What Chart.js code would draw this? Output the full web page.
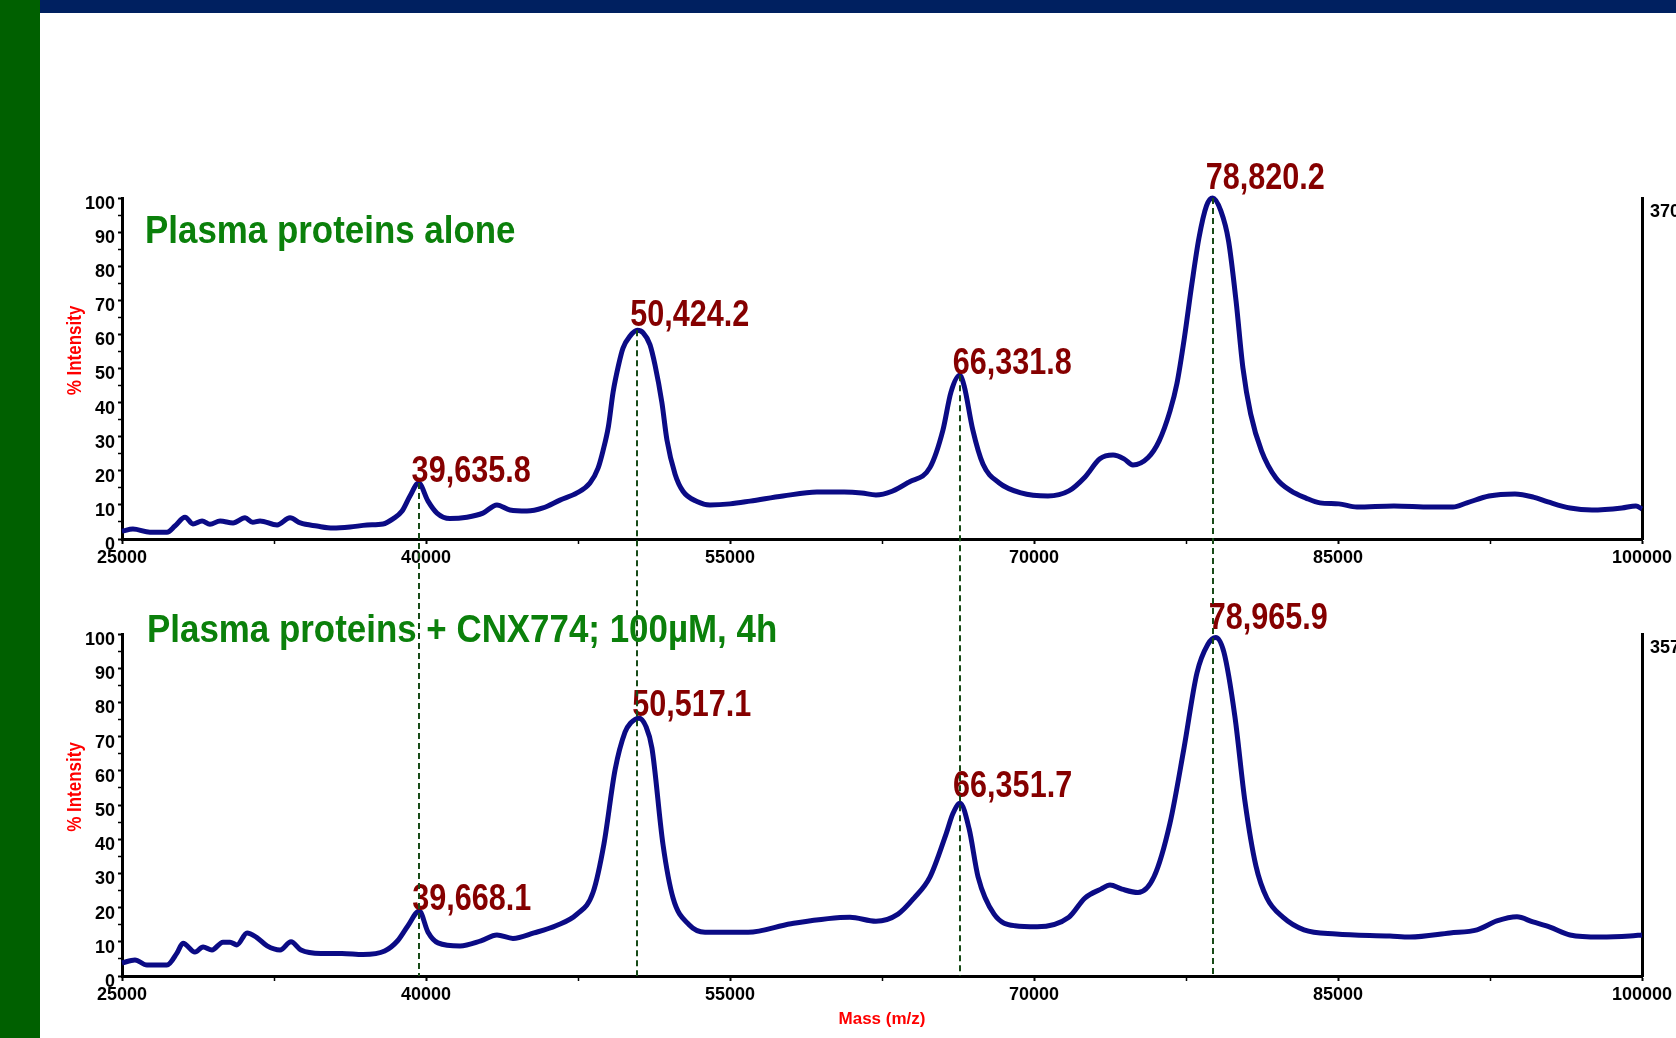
<!DOCTYPE html>
<html>
<head>
<meta charset="utf-8">
<script src="https://cdn.jsdelivr.net/npm/chart.js@4.4.1/dist/chart.umd.min.js"></script>
<style>
  html, body { margin: 0; padding: 0; background: #fff; overflow: hidden; }
  #page { position: relative; width: 1676px; height: 1038px; background: #fff; }
  #sideBand { position: absolute; left: 0; top: 0; width: 40px; height: 1038px; background: #006000; }
  #topBand { position: absolute; left: 40px; top: 0; right: 0; height: 13px; background: #002060; }
  canvas { position: absolute; left: 0; top: 0; }
</style>
</head>
<body>
<div id="page">
  <div id="sideBand"></div>
  <div id="topBand"></div>
  <canvas id="upper" width="1676" height="1038"></canvas>
  <canvas id="lower" width="1676" height="1038"></canvas>
</div>
<script>
// ---- spectra: mass (m/z) and % intensity ----
const massTicks = [25000, 40000, 55000, 70000, 85000, 100000];

const aloneMass = [25000,25540,26380,27220,27610,28110,28500,28950,29340,29840,30480,31070,31450,31810,32650,33290,33800,34620,35410,36250,37090,37880,38370,38820,39210,39635.8,40100,40540,41180,42020,42810,43500,44140,44980,45770,46610,47450,48090,48490,48730,49000,49230,49500,49720,50065,50424.2,50710,51050,51300,51640,51890,52290,52680,53370,54010,55000,55990,57610,59290,60630,61500,62200,63000,63830,64870,65510,65900,66331.8,66550,66980,67480,68270,69360,70690,71720,72520,73250,73900,74440,74880,75620,76170,76710,77050,77420,77790,78140,78510,78820.2,79220,79600,79970,80310,80690,81230,81940,82680,83420,84110,85040,85930,87760,89590,90670,91360,92450,93730,94640,95360,96450,97530,99010,99700,100000];
const aloneIntensity = [2.3,2.9,2.0,2.0,3.8,6.4,4.4,5.3,4.3,5.3,4.7,6.2,4.9,5.3,4.1,6.2,4.7,3.8,3.2,3.5,4.1,4.4,5.9,8.2,12.6,16.4,11.1,7.6,6.0,6.4,7.6,10.0,8.5,8.2,9.1,11.4,13.5,16.4,20.8,25.8,33,43,51,56,59.5,61.2,60.5,57,51,40,29,19,14,11,10,10.3,11.1,12.6,13.8,13.8,13.5,12.9,14,16.7,21,32,43,48,45,32,22,16.5,13.5,12.6,14.1,18.2,23.5,24.6,23.5,21.7,23.8,28.7,37.5,45.5,59,74.8,88.3,97.7,100,96.2,87.4,69.8,50.1,36.7,25.8,17.9,14.1,12.0,10.6,10.3,9.4,9.7,9.4,9.4,10.6,12.6,13.2,12.3,10.9,9.1,8.5,9.1,9.7,8.8];
const alonePeaks = [39635.8, 50424.2, 66331.8, 78820.2];

const treatedMass = [25000,25640,26230,27220,27710,28010,28600,29000,29440,29980,30330,30670,31170,31640,32160,32800,33340,33830,34820,35850,36890,37960,38600,39110,39668.1,40100,40590,41680,42710,43500,44290,45330,46410,47450,48240,48780,49330,49820,50100,50517.1,50850,51150,51690,52190,52980,53770,55890,58010,60920,62200,63290,64080,64870,65660,66000,66351.7,66800,67240,68030,69060,70150,71720,72510,73300,73750,74340,75130,75920,76710,77400,78040,78580,78965.9,79370,79910,80410,80950,81490,82280,83320,84900,87560,88550,90530,91860,92840,93830,94620,95460,96450,97930,99410,100000];
const treatedIntensity = [3.8,4.7,3.2,3.2,6.7,9.6,7.0,8.5,7.6,9.9,9.9,9.1,12.6,11.3,8.8,7.6,10.0,7.6,6.6,6.6,6.3,7.3,10.3,14.7,19.0,12.8,9.7,8.8,10.3,12.0,11.0,12.6,14.7,18.1,24.4,38.6,60.3,71.3,74,75.4,73,66.6,38.6,22.8,15.0,12.8,12.8,15.3,17.2,16.0,18.1,22.8,29.0,41.5,47.5,50.5,43,29,18.1,14.7,14.4,17.2,22.8,25.4,26.6,25.4,24.4,29.0,44.7,66.6,88.6,97,99,94.7,76,51,32.2,22.8,17.2,13.5,12.3,11.7,11.4,12.6,13.5,16.1,17.3,15.8,14.3,12.0,11.4,11.7,12.0];
const treatedPeaks = [39668.1, 50517.1, 66351.7, 78965.9];

const panelTitles = ['Plasma proteins alone', 'Plasma proteins + CNX774; 100\u00b5M, 4h'];
const fullScaleCounts = ['370', '357'];

// ---- styling ----
const FONT = "'Liberation Sans', Arial, sans-serif";
const TRACE = '#0b0b85';
const PEAK_RED = '#850000';
const GUIDE_GREEN = '#174a17';
Chart.defaults.font.family = FONT;
Chart.defaults.font.weight = 'bold';

const fmtMass = m => m.toLocaleString('en-US', { minimumFractionDigits: 1, maximumFractionDigits: 1 });
const apexOf = (mass, intensity, m) => intensity[mass.indexOf(m)];

// Text squeezed horizontally for a narrow-face look
function narrowText(ctx, text, x, y, sx, angle) {
  ctx.save();
  ctx.translate(x, y);
  if (angle) ctx.rotate(angle);
  ctx.scale(sx, 1);
  ctx.fillText(text, 0, 0);
  ctx.restore();
}

// Panel title and rotated y-axis caption
const panelText = {
  id: 'panelText',
  afterDraw(chart, args, o) {
    const { ctx, chartArea } = chart;
    ctx.save();
    ctx.fillStyle = '#0b800b';
    ctx.font = `bold ${o.titleSize}px ${FONT}`;
    ctx.textAlign = 'left';
    ctx.textBaseline = 'alphabetic';
    narrowText(ctx, o.title, chartArea.left + o.titleDx, chartArea.top + o.titleDy, 0.895);
    ctx.textAlign = 'center';
    ctx.textBaseline = 'middle';
    ctx.fillStyle = '#ff0000';
    ctx.font = `bold 20px ${FONT}`;
    narrowText(ctx, '% Intensity', o.captionX, (chartArea.top + chartArea.bottom) / 2 + o.captionDy, 0.85, -Math.PI / 2);
    ctx.restore();
  }
};

// Peak mass labels placed just above each apex (lift = extra rise in px)
const peakLabels = {
  id: 'peakLabels',
  afterDatasetsDraw(chart, args, o) {
    const { ctx, scales } = chart;
    ctx.save();
    ctx.fillStyle = PEAK_RED;
    ctx.font = `bold 36px ${FONT}`;
    ctx.textAlign = 'left';
    ctx.textBaseline = 'alphabetic';
    o.peaks.forEach((m, i) => {
      const px = scales.x.getPixelForValue(m);
      const py = scales.y.getPixelForValue(apexOf(o.mass, o.intensity, m));
      narrowText(ctx, fmtMass(m), px - 7, py - o.lift[i], 0.85);
    });
    ctx.restore();
  }
};

function panelScales(xHeight, showMassTitle, fullScale) {
  const zeroPad = s => { s.paddingTop = 0; s.paddingBottom = 0; s.paddingLeft = 0; s.paddingRight = 0; };
  const tickFont = { size: 18, weight: 'bold' };
  return {
    x: {
      type: 'linear', position: 'bottom', min: 25000, max: 100000,
      afterFit(s) { s.height = xHeight; zeroPad(s); },
      border: { display: true, color: '#000', width: 3 },
      grid: { display: true, drawOnChartArea: false, drawTicks: true, tickLength: 5, tickColor: '#000',
              tickWidth: c => (c.tick && massTicks.includes(c.tick.value)) ? 2 : 1.5 },
      ticks: { stepSize: 7500, autoSkip: false, maxRotation: 0, minRotation: 0, padding: 3, color: '#000', font: tickFont,
               callback: v => massTicks.includes(v) ? String(v) : '' },
      title: { display: showMassTitle, text: 'Mass (m/z)', color: '#ff0000', font: { size: 17, weight: 'bold' }, padding: 0 }
    },
    y: {
      type: 'linear', position: 'left', min: 0, max: 100,
      afterFit(s) { s.width = 122; zeroPad(s); },
      border: { display: true, color: '#000', width: 3 },
      grid: { display: true, drawOnChartArea: false, drawTicks: true, tickLength: 4, tickColor: '#000',
              tickWidth: c => (c.tick && c.tick.value % 10 === 0) ? 2 : 1.5 },
      ticks: { stepSize: 5, autoSkip: false, padding: 3, labelOffset: 6, color: '#000', font: tickFont,
               callback: v => v % 10 === 0 ? String(v) : '' }
    },
    yr: {
      type: 'linear', position: 'right', min: 0, max: 100,
      afterFit(s) { s.width = 34; zeroPad(s); },
      border: { display: true, color: '#000', width: 3 },
      grid: { display: false, drawTicks: false },
      ticks: { stepSize: 100, autoSkip: false, padding: 8, labelOffset: 14, color: '#000', font: tickFont,
               callback: v => v === 100 ? fullScale : '' }
    }
  };
}

function makePanel(canvasId, cfg, extraPlugins) {
  const points = cfg.mass.map((m, i) => ({ x: m, y: cfg.intensity[i] }));
  return new Chart(document.getElementById(canvasId), {
    type: 'line',
    data: {
      datasets: [{
        data: points, xAxisID: 'x', yAxisID: 'y',
        borderColor: TRACE, borderWidth: 5, pointRadius: 0, fill: false,
        cubicInterpolationMode: 'monotone', clip: false
      }]
    },
    options: {
      responsive: false, animation: false, events: [],
      layout: { padding: { top: cfg.areaTop, bottom: cfg.padBottom, left: 0, right: 0 } },
      plugins: {
        legend: { display: false },
        tooltip: { enabled: false },
        panelText: { title: cfg.title, titleSize: 39, titleDx: cfg.titleDx, titleDy: cfg.titleDy, captionX: 75, captionDy: -18 },
        peakLabels: { peaks: cfg.peaks, mass: cfg.mass, intensity: cfg.intensity, lift: cfg.labelLift }
      },
      scales: panelScales(cfg.xHeight, cfg.massTitle, cfg.fullScale)
    },
    plugins: [panelText, peakLabels].concat(extraPlugins || [])
  });
}

const upperChart = makePanel('upper', {
  mass: aloneMass, intensity: aloneIntensity, peaks: alonePeaks,
  title: panelTitles[0], fullScale: fullScaleCounts[0],
  areaTop: 198, xHeight: 40, padBottom: 1038 - 539 - 40, massTitle: false,
  titleDx: 23, titleDy: 45, labelLift: [1, 4, 1, 9]
});

// Dashed guides from each upper-panel apex down to the lower mass axis
const peakGuides = {
  id: 'peakGuides',
  afterDatasetsDraw(chart) {
    const { ctx } = chart;
    const ux = upperChart.scales.x, uy = upperChart.scales.y;
    ctx.save();
    ctx.strokeStyle = GUIDE_GREEN;
    ctx.lineWidth = 2;
    ctx.setLineDash([6, 4]);
    alonePeaks.forEach(m => {
      const px = Math.round(ux.getPixelForValue(m));
      const py = uy.getPixelForValue(apexOf(aloneMass, aloneIntensity, m));
      ctx.beginPath();
      ctx.moveTo(px, py);
      ctx.lineTo(px, chart.chartArea.bottom);
      ctx.stroke();
    });
    ctx.restore();
  }
};

const lowerChart = makePanel('lower', {
  mass: treatedMass, intensity: treatedIntensity, peaks: treatedPeaks,
  title: panelTitles[1], fullScale: fullScaleCounts[1],
  areaTop: 634, xHeight: 54, padBottom: 8, massTitle: true,
  titleDx: 25, titleDy: 8, labelLift: [1, 2, 6, 8]
}, [peakGuides]);
</script>
</body>
</html>
